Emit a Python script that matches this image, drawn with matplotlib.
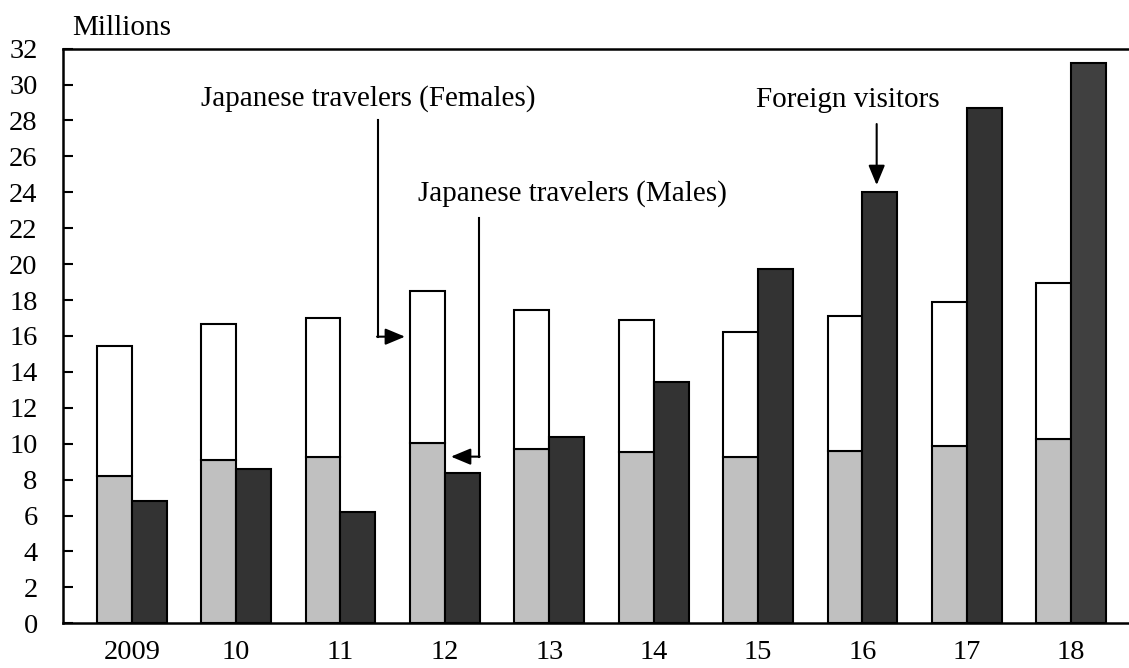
import matplotlib
matplotlib.use("Agg")
import matplotlib.pyplot as plt
import numpy as np

# ---- data ----
years = ["2009", "10", "11", "12", "13", "14", "15", "16", "17", "18"]
japanese_total = [15.45, 16.64, 16.99, 18.49, 17.47, 16.90, 16.21, 17.12, 17.89, 18.95]
japanese_males = [8.20, 9.09, 9.28, 10.02, 9.71, 9.52, 9.26, 9.61, 9.89, 10.26]
foreign_visitors = [6.79, 8.61, 6.22, 8.36, 10.36, 13.41, 19.74, 24.04, 28.69, 31.19]
y_ticks = list(range(0, 33, 2))

japanese_females = [t - m for t, m in zip(japanese_total, japanese_males)]

plt.rcParams['font.family'] = ['Liberation Serif', 'DejaVu Serif']
FS_TICK = 20.5
FS_TEXT = 21

fig = plt.figure(figsize=(11.29, 6.68), dpi=100)
ax = fig.add_axes([62.7 / 1129, 44.7 / 668, 1 - 62.7 / 1129, (623.3 - 48.6) / 668])

x = np.arange(len(years))
w = 0.335
dark_colors = ["#333333"] * (len(years) - 1) + ["#404040"]

ax.bar(x - w / 2, japanese_males, width=w, color="#c0c0c0", edgecolor="black", linewidth=1.5, zorder=2)
ax.bar(x - w / 2, japanese_females, width=w, bottom=japanese_males, color="white",
       edgecolor="black", linewidth=1.5, zorder=2)
ax.bar(x + w / 2, foreign_visitors, width=w, color=dark_colors, edgecolor="black", linewidth=1.5, zorder=2)

ax.set_ylim(0, 32)
ax.set_xlim(-0.661, 9.553)
ax.set_yticks(y_ticks)
ax.set_yticklabels([str(v) for v in y_ticks], fontsize=FS_TICK)
ax.set_xticks(x)
ax.set_xticklabels(years, fontsize=FS_TICK)
ax.tick_params(axis='y', direction='in', length=7, width=1.5, pad=18)
ax.tick_params(axis='x', length=0, pad=12)
for s in ['left', 'bottom', 'top']:
    ax.spines[s].set_linewidth(1.8)
ax.spines['right'].set_visible(False)

fig.text(71.7 / 1129, 1 - 28.3 / 668, "Millions", fontsize=FS_TEXT, va='center', ha='left')

# ---- annotations ----
ax.text(2.268, 29.23, "Japanese travelers (Females)", fontsize=FS_TEXT, ha='center', va='center')
ax.text(4.222, 23.94, "Japanese travelers (Males)", fontsize=FS_TEXT, ha='center', va='center')
ax.text(6.856, 29.14, "Foreign visitors", fontsize=FS_TEXT, ha='center', va='center')

arrow_kw = dict(arrowstyle='-|>,head_length=1.2,head_width=0.5', color='black', lw=1.5,
                shrinkA=0, shrinkB=0)
# Females: elbow arrow
ax.plot([2.356, 2.356], [28.0, 15.96], color='black', lw=1.5, solid_capstyle='projecting')
ax.annotate("", xy=(2.618, 15.96), xytext=(2.350, 15.96), arrowprops=arrow_kw)
# Males: elbow arrow
ax.plot([3.327, 3.327], [22.58, 9.28], color='black', lw=1.5, solid_capstyle='projecting')
ax.annotate("", xy=(3.058, 9.28), xytext=(3.333, 9.28), arrowprops=arrow_kw)
# Foreign visitors
ax.annotate("", xy=(7.136, 24.4), xytext=(7.136, 27.8), arrowprops=arrow_kw)

fig.savefig("out.png", dpi=100)
